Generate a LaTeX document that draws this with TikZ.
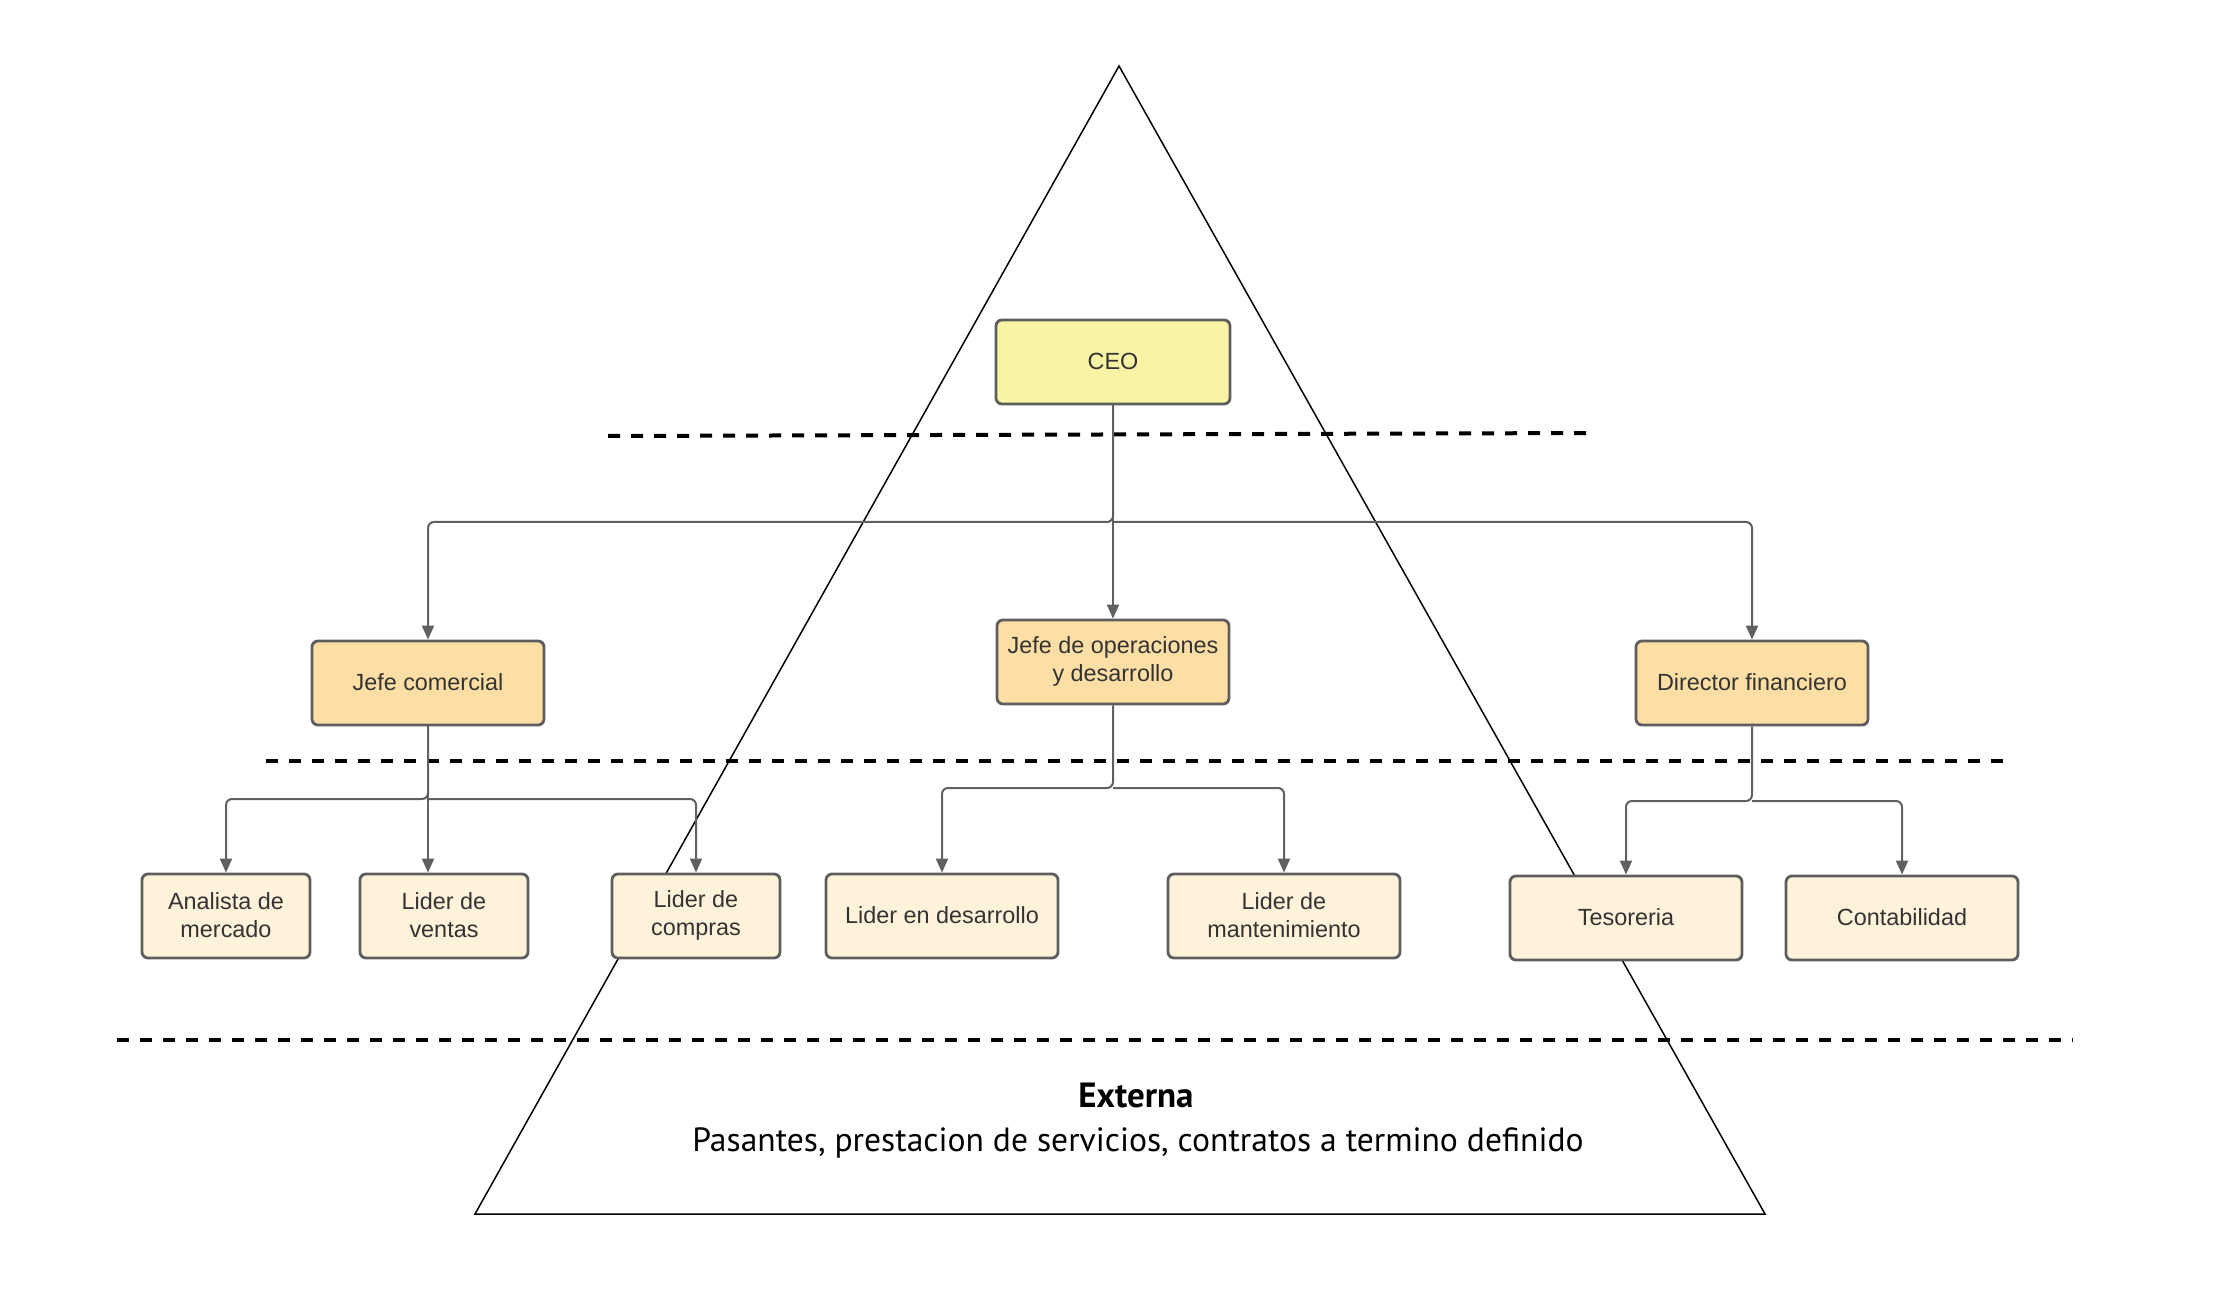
\documentclass[tikz,border=0pt]{standalone}
\usepackage{fontspec}
\setmainfont{Liberation Sans}
\newfontfamily\extfont{PT Sans}
\usetikzlibrary{arrows.meta,calc}
\definecolor{ceofill}{RGB}{249,244,165}
\definecolor{jefefill}{RGB}{253,222,165}
\definecolor{subfill}{RGB}{255,242,218}
\definecolor{boxline}{RGB}{94,94,94}
\definecolor{conncol}{RGB}{96,96,96}
\definecolor{txt}{RGB}{51,51,51}
\begin{document}
\begin{tikzpicture}[x=0.5pt,y=-0.5pt,
  box/.style={draw=boxline, line width=1.4pt, rounded corners=3pt, minimum height=42pt,
    align=center, text=txt, font=\fontsize{11.7}{14}\selectfont, inner sep=2pt},
  ceobox/.style={box, fill=ceofill, minimum width=117pt},
  jefebox/.style={box, fill=jefefill, minimum width=116pt},
  subbox/.style={box, fill=subfill, minimum width=84pt},
  widebox/.style={box, fill=subfill, minimum width=116pt},
  boxtext/.style={label={[align=center, text=txt, font=\fontsize{11.7}{14}\selectfont, yshift=0.4pt]center:#1}},
  conn/.style={draw=conncol, line width=1pt, rounded corners=3pt},
  arr/.style={conn, -{Triangle[length=7pt,width=6pt]}},
  dashline/.style={line width=2pt, dash pattern=on 6pt off 5.5pt},
  tri/.style={line width=0.75pt, draw=black}
]
\useasboundingbox (0,0) rectangle (2218,1310);
\fill[white] (0,0) rectangle (2218,1310);

% pyramid
\draw[tri] (1119,66) -- (1765,1214) -- (475,1214) -- cycle;

% dashed separators
\draw[dashline] (608,436) -- (1596,433);
\draw[dashline] (266,761) -- (2012,761);
\draw[dashline] (117,1040) -- (2073,1040);

% nodes
\node[ceobox, boxtext={CEO}] (ceo) at (1113,362) {};
\node[jefebox, boxtext={Jefe comercial}] (jc) at (428,683) {};
\node[jefebox, boxtext={Jefe de operaciones\\y desarrollo}] (jo) at (1113,662) {};
\node[jefebox, boxtext={Director financiero}] (df) at (1752,683) {};

\node[subbox, boxtext={Analista de\\mercado}] (am) at (226,916) {};
\node[subbox, boxtext={Lider de\\ventas}] (lv) at (444,916) {};
\node[subbox, boxtext={Lider de\\compras}] (lc) at (696,916) {};
\node[widebox, boxtext={Lider en desarrollo}] (ld) at (942,916) {};
\node[widebox, boxtext={Lider de\\mantenimiento}] (lm) at (1284,916) {};
\node[widebox, boxtext={Tesoreria}] (te) at (1626,918) {};
\node[widebox, boxtext={Contabilidad}] (co) at (1902,918) {};

% bus coordinates
\coordinate (b1) at (1113,522);
\coordinate (b2) at (428,799);
\coordinate (b3) at (1113,788);
\coordinate (b4) at (1752,801);

% connectors
\draw[arr] (ceo.south) -- (b1) -| (jc.north);
\draw[arr] (b1) -| (df.north);
\draw[arr] (ceo.south) -- (jo.north);

\draw[arr] (jc.south) -- (b2) -| (am.north);
\draw[arr] (jc.south) -- (jc.south |- lv.north);
\draw[arr] (b2) -| (lc.north);

\draw[arr] (jo.south) -- (b3) -| (ld.north);
\draw[arr] (b3) -| (lm.north);

\draw[arr] (df.south) -- (b4) -| (te.north);
\draw[arr] (b4) -| (co.north);

% bottom text
\node[font=\extfont\bfseries\fontsize{17.5}{20}\selectfont] (ext) at (1136,1095) {Externa};
\node[font=\extfont\fontsize{16.8}{20}\selectfont] (pas) at (1138,1143) {Pasantes, prestacion de servicios, contratos a termino definido};
\end{tikzpicture}
\end{document}
